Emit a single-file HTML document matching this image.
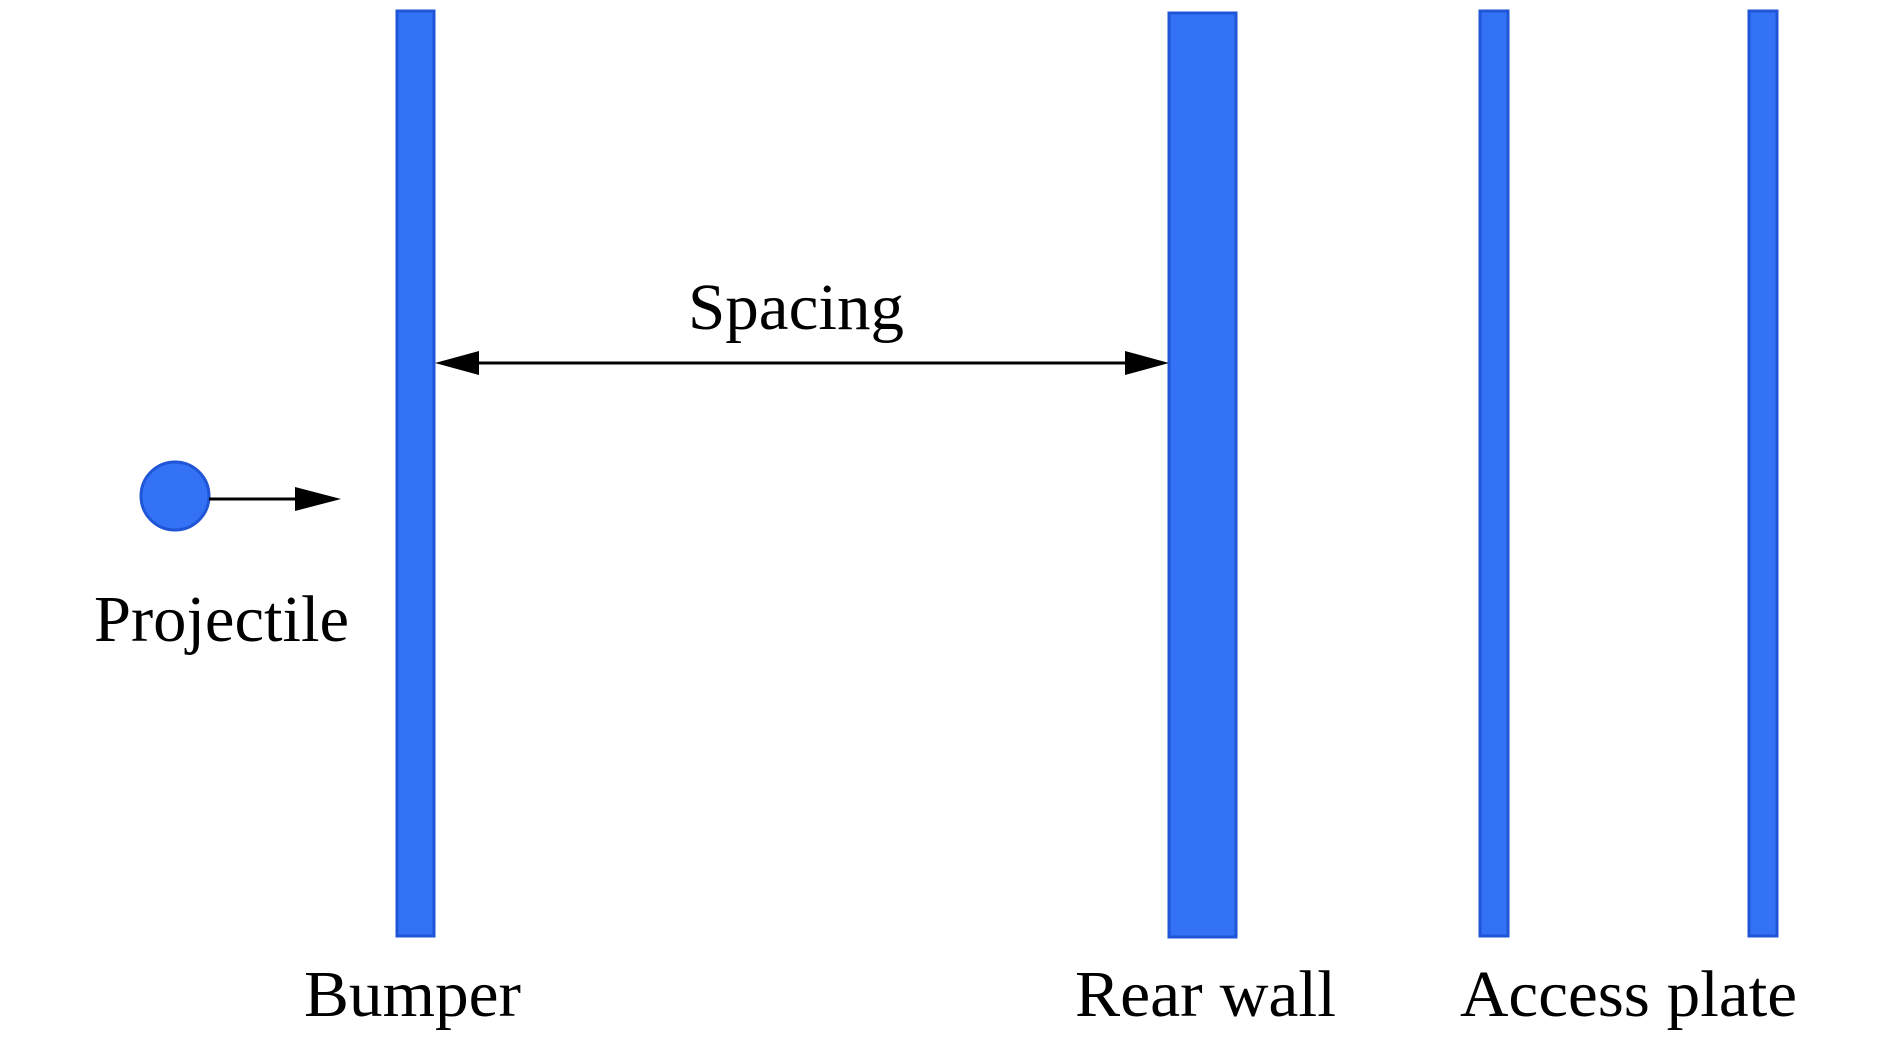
<!DOCTYPE html>
<html><head><style>html,body{margin:0;padding:0;background:#fff}</style></head>
<body>
<svg width="1890" height="1039" viewBox="0 0 1890 1039" xmlns="http://www.w3.org/2000/svg">
<g fill="#3372f5" stroke="#1f55d6" stroke-width="3">
<rect x="397" y="11" width="37" height="925"/>
<rect x="1169" y="13" width="67" height="924"/>
<rect x="1480" y="11" width="28" height="925"/>
<rect x="1749" y="11" width="28" height="925"/>
<circle cx="175" cy="496" r="34"/>
</g>
<g stroke="#000" stroke-width="3" fill="#000">
<line x1="470" y1="363" x2="1130" y2="363"/>
<polygon points="435,363 479,351 479,375" stroke="none"/>
<polygon points="1169,363 1125,351 1125,375" stroke="none"/>
<line x1="209" y1="499" x2="305" y2="499"/>
<polygon points="341,499 295,487 295,511" stroke="none"/>
</g>
<g font-family="'Liberation Serif', serif" font-size="66" fill="#000">
<text x="688" y="329" textLength="216" lengthAdjust="spacingAndGlyphs">Spacing</text>
<text x="94" y="641" textLength="255" lengthAdjust="spacingAndGlyphs">Projectile</text>
<text x="304" y="1016" textLength="217" lengthAdjust="spacingAndGlyphs">Bumper</text>
<text x="1075" y="1016" textLength="261" lengthAdjust="spacingAndGlyphs">Rear wall</text>
<text x="1460" y="1016" textLength="337" lengthAdjust="spacingAndGlyphs">Access plate</text>
</g>
</svg>
</body></html>
